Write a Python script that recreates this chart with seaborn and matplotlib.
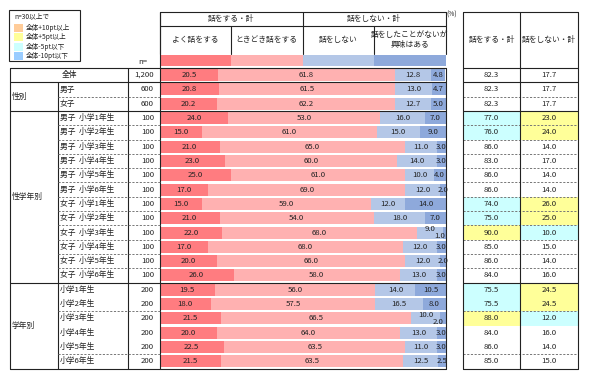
import numpy as np
import pandas as pd
import seaborn as sns
import matplotlib.pyplot as plt
from matplotlib.patches import Rectangle

# ---- data ----
row_labels = ['全体', '男子', '女子',
              '男子  小学1年生', '男子  小学2年生', '男子  小学3年生', '男子  小学4年生', '男子  小学5年生', '男子  小学6年生',
              '女子  小学1年生', '女子  小学2年生', '女子  小学3年生', '女子  小学4年生', '女子  小学5年生', '女子  小学6年生',
              '小学1年生', '小学2年生', '小学3年生', '小学4年生', '小学5年生', '小学6年生']
n_values = [1200, 600, 600] + [100] * 12 + [200] * 6
group_names = ['性別', '性学年別', '学年別']
group_sizes = [2, 12, 6]

often = [20.5, 20.8, 20.2, 24.0, 15.0, 21.0, 23.0, 25.0, 17.0, 15.0, 21.0, 22.0, 17.0, 20.0, 26.0,
         19.5, 18.0, 21.5, 20.0, 22.5, 21.5]
sometimes = [61.8, 61.5, 62.2, 53.0, 61.0, 65.0, 60.0, 61.0, 69.0, 59.0, 54.0, 68.0, 68.0, 66.0, 58.0,
             56.0, 57.5, 66.5, 64.0, 63.5, 63.5]
never = [12.8, 13.0, 12.7, 16.0, 15.0, 11.0, 14.0, 10.0, 12.0, 12.0, 18.0, 9.0, 12.0, 12.0, 13.0,
         14.0, 16.5, 10.0, 13.0, 11.0, 12.5]
interested = [4.8, 4.7, 5.0, 7.0, 9.0, 3.0, 3.0, 4.0, 2.0, 14.0, 7.0, 1.0, 3.0, 2.0, 3.0,
              10.5, 8.0, 2.0, 3.0, 3.0, 2.5]
total_talk = [82.3, 82.3, 82.3, 77.0, 76.0, 86.0, 83.0, 86.0, 86.0, 74.0, 75.0, 90.0, 85.0, 86.0, 84.0,
              75.5, 75.5, 88.0, 84.0, 86.0, 85.0]
total_not = [17.7, 17.7, 17.7, 23.0, 24.0, 14.0, 17.0, 14.0, 14.0, 26.0, 25.0, 10.0, 15.0, 14.0, 16.0,
             24.5, 24.5, 12.0, 16.0, 14.0, 15.0]

seg_names = ['よく話をする', 'ときどき話をする', '話をしない', '話をしたことがないが\n興味はある']
seg_colors = ['#FF7C80', '#FFB1B1', '#B4C7E7', '#8EA9DB']
legend_labels = ['全体+10pt以上', '全体+5pt以上', '全体-5pt以下', '全体-10pt以下']
legend_colors = ['#FFCC99', '#FFFF99', '#CCFFFF', '#99CCFF']

# ---- layout (pixels) ----
W, H = 589, 381
X0, X1 = 159.5, 445.5        # bar panel
Y0, Y1 = 68.0, 368.5         # data rows
RH = (Y1 - Y0) / len(row_labels)
RX0, RXM, RX1 = 463, 520, 578  # right table
TXT = '#222222'
FS = 5.6

sns.set_theme(style='white')
plt.rcParams['font.family'] = ['Noto Sans CJK JP', 'DejaVu Sans']

fig = plt.figure(figsize=(W / 100, H / 100), dpi=100)
ax = fig.add_axes([X0 / W, 1 - Y1 / H, (X1 - X0) / W, (Y1 - Y0) / H])
tab = fig.add_axes([0, 0, 1, 1])
tab.set_zorder(3)
tab.set_xlim(0, W)
tab.set_ylim(H, 0)
tab.axis('off')


def row_y(i):
    return Y0 + (i + 0.5) * RH


# ---- stacked bars (seaborn, cumulative) ----
df = pd.DataFrame({'row': row_labels, seg_names[0]: often, seg_names[1]: sometimes,
                   seg_names[2]: never, seg_names[3]: interested})
cum = df[seg_names].cumsum(axis=1)
cum['row'] = df['row']
for name, color in reversed(list(zip(seg_names, seg_colors))):
    sns.barplot(data=cum, x=name, y='row', order=row_labels, orient='h', color=color,
                saturation=1, width=0.84, edgecolor='none', ax=ax)
ax.set_xlim(0, 100)
ax.set_ylim(len(row_labels) - 0.5, -0.5)
ax.axis('off')

for i in range(len(row_labels)):
    vals = [often[i], sometimes[i], never[i], interested[i]]
    left = 0
    stagger = vals[2] <= 10 and vals[3] <= 2
    for k, v in enumerate(vals):
        x = left + v / 2
        y = i
        if stagger and k == 2:
            y = i - 0.22
        if stagger and k == 3:
            y, x = i + 0.25, x - 1.5
        ax.text(x, y, f'{v:.1f}', ha='center', va='center', fontsize=FS, color=TXT)
        left += v

# ---- header ----
line_kw = dict(color='#222222', lw=0.8)
tab.plot([X0, X0, X1, X1], [54, 12, 12, 54], **line_kw)
tab.plot([X0, X1], [26, 26], **line_kw)
colx = np.linspace(X0, X1, 5)
tab.plot([colx[2], colx[2]], [12, 54], **line_kw)
for cx in (colx[1], colx[3]):
    tab.plot([cx, cx], [26, 54], **line_kw)
tab.text((colx[0] + colx[2]) / 2, 19.5, '話をする・計', ha='center', va='center', fontsize=FS, color=TXT)
tab.text((colx[2] + colx[4]) / 2, 19.5, '話をしない・計', ha='center', va='center', fontsize=FS, color=TXT)
for k, name in enumerate(seg_names):
    tab.text((colx[k] + colx[k + 1]) / 2, 40, name, ha='center', va='center', fontsize=FS,
             color=TXT, linespacing=1.35)
    tab.add_patch(Rectangle((colx[k], 54.5), colx[k + 1] - colx[k], 11.5,
                            facecolor=seg_colors[k], edgecolor='none', zorder=0))
tab.text(446, 15, '(%)', ha='left', va='center', fontsize=FS - 0.8, color=TXT)
tab.text(143, 62, 'n=', ha='center', va='center', fontsize=FS, color=TXT)

# ---- legend box ----
tab.add_patch(Rectangle((9, 10), 71, 51, facecolor='none', edgecolor='#222222', lw=0.8))
tab.text(14, 16.5, 'n=30以上で', ha='left', va='center', fontsize=FS - 0.8, color=TXT)
for k, (lab, col) in enumerate(zip(legend_labels, legend_colors)):
    yy = 27.5 + k * 9.6
    tab.add_patch(Rectangle((14, yy - 4), 9, 8, facecolor=col, edgecolor='none'))
    tab.text(26, yy, lab, ha='left', va='center', fontsize=FS - 0.8, color=TXT)

# ---- left table ----
tab.plot([10, X1], [Y0, Y0], **line_kw)
tab.plot([10, X1], [Y1, Y1], **line_kw)
tab.plot([10, 10], [Y0, Y1], **line_kw)
tab.plot([X0, X0], [12, Y1], **line_kw)
tab.plot([X1, X1], [Y0, Y1], **line_kw)
tab.plot([128, 128], [Y0, Y1], **line_kw)
tab.plot([58, 58], [Y0 + RH, Y1], **line_kw)

tab.text(69, row_y(0), row_labels[0], ha='center', va='center', fontsize=FS, color=TXT)
for i in range(len(row_labels)):
    if i > 0:
        tab.text(60, row_y(i), row_labels[i], ha='left', va='center', fontsize=FS, color=TXT)
    tab.text(154, row_y(i), f'{n_values[i]:,}', ha='right', va='center', fontsize=FS, color=TXT)

# group boundaries (solid) and dashed row separators
start = 1
dashed_after = []
for gname, gsize in zip(group_names, group_sizes):
    top, bottom = Y0 + start * RH, Y0 + (start + gsize) * RH
    tab.text(12, (top + bottom) / 2, gname, ha='left', va='center', fontsize=FS, color=TXT)
    tab.plot([10, X1], [top, top], **line_kw)
    tab.plot([RX0, RX1], [top, top], **line_kw)
    if gname == '学年別':
        dashed_after += [start + 1, start + 4]
    else:
        dashed_after += list(range(start, start + gsize - 1))
    start += gsize

dash_kw = dict(color='#777777', lw=0.7, ls=(0, (2.2, 1.6)))
for i in dashed_after:
    yy = Y0 + (i + 1) * RH
    tab.plot([58, X0], [yy, yy], **dash_kw)
    tab.plot([RX0, RX1], [yy, yy], **dash_kw)

# ---- right table ----
base_t, base_n = total_talk[0], total_not[0]


def highlight(diff):
    if diff >= 10:
        return legend_colors[0]
    if diff >= 5:
        return legend_colors[1]
    if diff <= -10:
        return legend_colors[3]
    if diff <= -5:
        return legend_colors[2]
    return None


for i in range(len(row_labels)):
    for (xa, xb), val, base in (((RX0, RXM), total_talk[i], base_t), ((RXM, RX1), total_not[i], base_n)):
        col = highlight(val - base) if n_values[i] >= 30 else None
        if col:
            tab.add_patch(Rectangle((xa, Y0 + i * RH), xb - xa, RH, facecolor=col,
                                    edgecolor='none', zorder=0))
        tab.text((xa + xb) / 2, row_y(i), f'{val:.1f}', ha='center', va='center', fontsize=FS, color=TXT)

tab.plot([RX0, RX1, RX1, RX0, RX0], [Y1, Y1, 12, 12, Y1], **line_kw)
tab.plot([RXM, RXM], [12, Y1], **line_kw)
tab.plot([RX0, RX1], [Y0, Y0], **line_kw)
tab.text((RX0 + RXM) / 2, 40, '話をする・計', ha='center', va='center', fontsize=FS, color=TXT)
tab.text((RXM + RX1) / 2, 40, '話をしない・計', ha='center', va='center', fontsize=FS, color=TXT)

fig.savefig('out.png', dpi=100)
